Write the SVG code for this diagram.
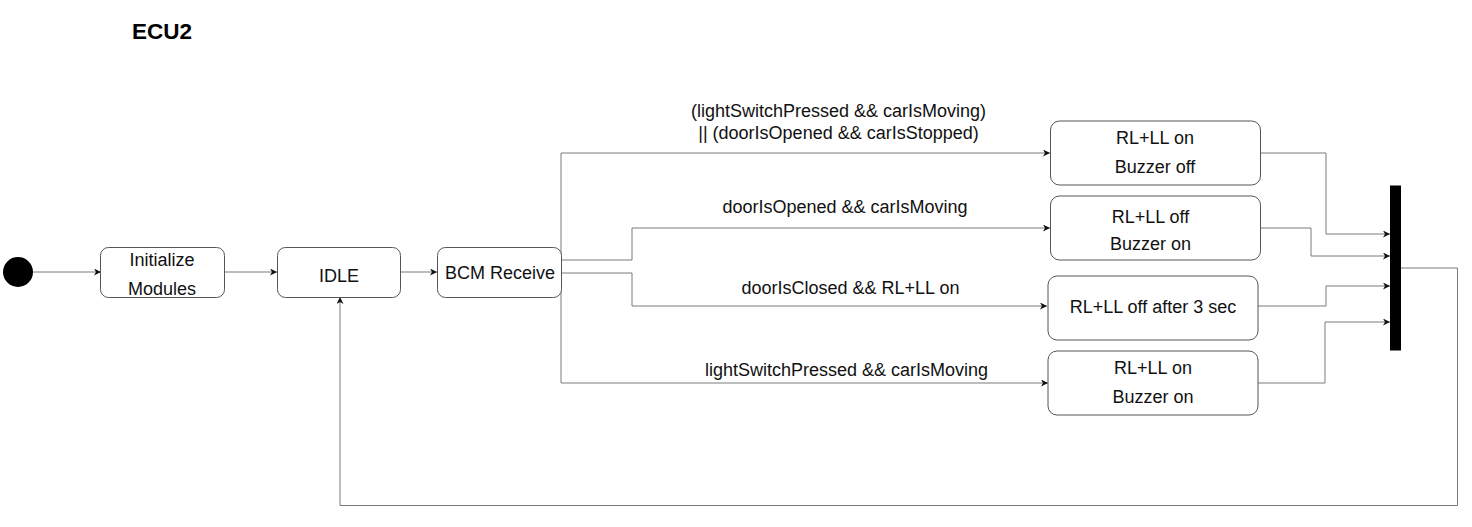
<svg xmlns="http://www.w3.org/2000/svg" width="1472" height="527" viewBox="0 0 1472 527">
<style>
.box{fill:#fff;stroke:#555;stroke-width:1}
.t{font-family:"Liberation Sans",Arial,sans-serif;font-size:18px;fill:#111;text-anchor:middle}
.edge{fill:none;stroke:#7a7a7a;stroke-width:1}
</style>
<defs>
<marker id="arr" markerUnits="userSpaceOnUse" markerWidth="8" markerHeight="8" refX="7" refY="3.5" orient="auto">
<path d="M0,0 L7,3.5 L0,7 L2,3.5 Z" fill="#111"/>
</marker>
</defs>
<rect width="1472" height="527" fill="#fff"/>
<text x="162" y="38.5" style="font-family:'Liberation Sans',Arial,sans-serif;font-size:22.5px;font-weight:bold;fill:#000" text-anchor="middle">ECU2</text>

<g id="connectors">
<path class="edge" d="M33,272 H101" marker-end="url(#arr)"/>
<path class="edge" d="M224,272 H277" marker-end="url(#arr)"/>
<path class="edge" d="M400,272 H437" marker-end="url(#arr)"/>
<path class="edge" d="M561,262 V153 H1050" marker-end="url(#arr)"/>
<path class="edge" d="M562,260 H632 V228 H1050" marker-end="url(#arr)"/>
<path class="edge" d="M562,273 H632 V306 H1047" marker-end="url(#arr)"/>
<path class="edge" d="M561,280 V383 H1048" marker-end="url(#arr)"/>
<path class="edge" d="M1260,153 H1326 V234 H1390" marker-end="url(#arr)"/>
<path class="edge" d="M1260,228 H1311 V256 H1390" marker-end="url(#arr)"/>
<path class="edge" d="M1258,306 H1326 V286 H1390" marker-end="url(#arr)"/>
<path class="edge" d="M1258,383 H1325 V322 H1390" marker-end="url(#arr)"/>
<path class="edge" d="M1401,268 H1457.5 V505.5 H340 V297" marker-end="url(#arr)"/>
<text class="t" x="838.5" y="117">(lightSwitchPressed &amp;&amp; carIsMoving)</text>
<text class="t" x="838.5" y="139">|| (doorIsOpened &amp;&amp; carIsStopped)</text>
<text class="t" x="845" y="213">doorIsOpened &amp;&amp; carIsMoving</text>
<text class="t" x="850.5" y="294">doorIsClosed &amp;&amp; RL+LL on</text>
<text class="t" x="846.5" y="376">lightSwitchPressed &amp;&amp; carIsMoving</text>
</g>

<g id="start"><circle cx="18" cy="272" r="15" fill="#000"/></g>

<g id="init">
<rect class="box" x="100.5" y="247.5" width="124" height="50" rx="8"/>
<text class="t" x="162" y="266">Initialize</text>
<text class="t" x="162" y="295">Modules</text>
</g>

<g id="idle">
<rect class="box" x="277.5" y="247.5" width="123" height="50" rx="8"/>
<text class="t" x="339" y="281.5">IDLE</text>
</g>

<g id="bcm">
<rect class="box" x="437.5" y="247.5" width="124" height="50" rx="8"/>
<text class="t" x="500" y="278.5">BCM Receive</text>
</g>

<g id="s1">
<rect class="box" x="1050.5" y="121" width="210" height="64" rx="9"/>
<text class="t" x="1155" y="144">RL+LL on</text>
<text class="t" x="1155" y="172.5">Buzzer off</text>
</g>

<g id="s2">
<rect class="box" x="1050.5" y="196" width="210" height="64" rx="9"/>
<text class="t" x="1150.5" y="222.5">RL+LL off</text>
<text class="t" x="1150.5" y="250">Buzzer on</text>
</g>

<g id="s3">
<rect class="box" x="1048" y="276" width="210" height="64" rx="9"/>
<text class="t" x="1153" y="312.5">RL+LL off after 3 sec</text>
</g>

<g id="s4">
<rect class="box" x="1048" y="351" width="210" height="64" rx="9"/>
<text class="t" x="1153" y="374">RL+LL on</text>
<text class="t" x="1153" y="402.5">Buzzer on</text>
</g>

<g id="join">
<rect x="1390" y="185.5" width="11" height="165" fill="#000"/>
</g>
</svg>
